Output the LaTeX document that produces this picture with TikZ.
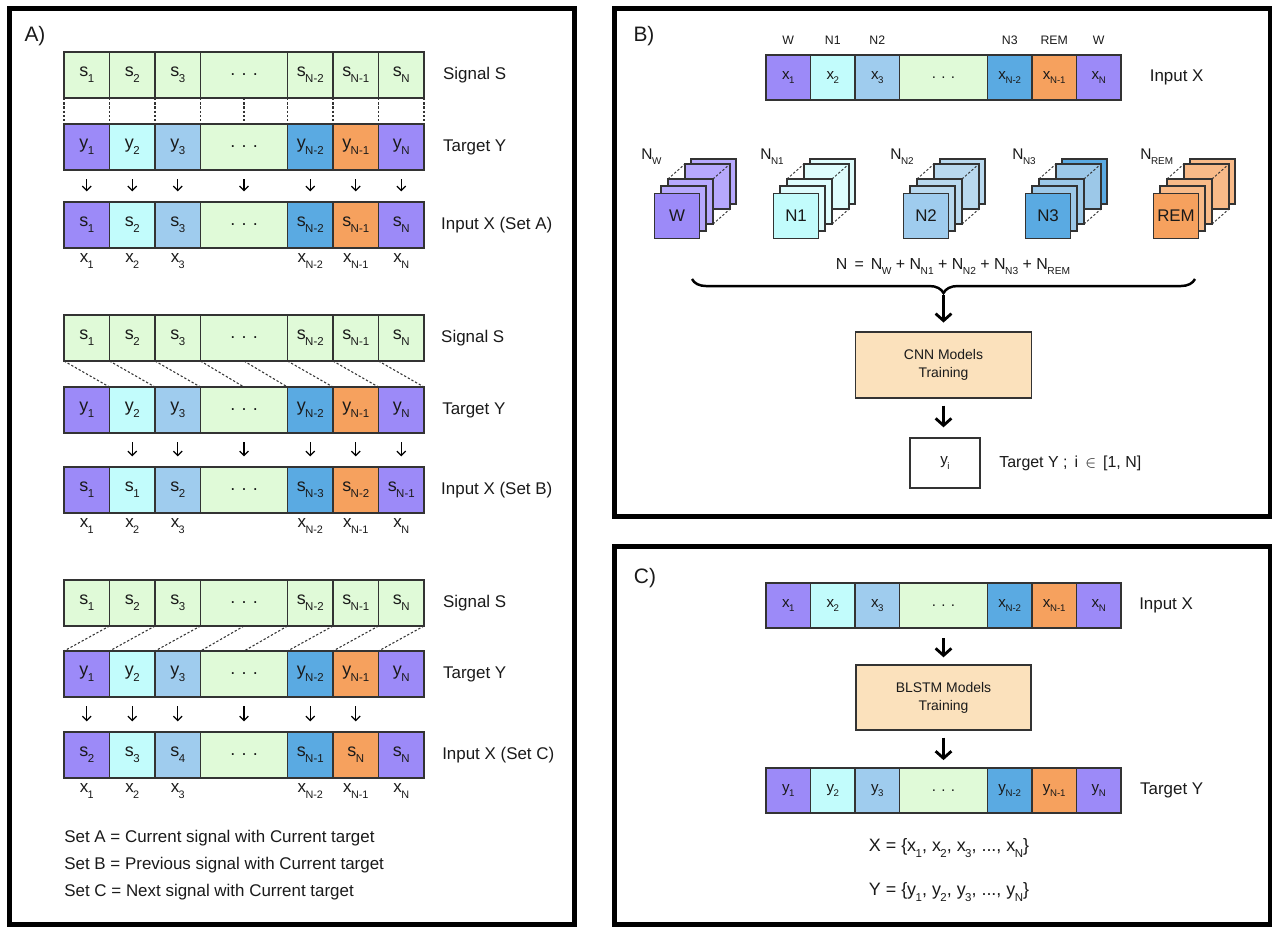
\documentclass[tikz,border=0pt]{standalone}
\usepackage{fontspec}
\setmainfont{Liberation Sans}
\usetikzlibrary{arrows.meta,decorations.pathreplacing,calc}

\definecolor{sigg}{HTML}{E0FAD8}
\definecolor{cpur}{HTML}{9C8AF8}
\definecolor{ccya}{HTML}{C2FCFC}
\definecolor{clbl}{HTML}{9FCCEE}
\definecolor{cblu}{HTML}{5AAAE2}
\definecolor{cora}{HTML}{F6A15E}
\definecolor{peach}{HTML}{FBE1BC}
\definecolor{cline}{HTML}{333333}
\definecolor{txt}{HTML}{1A1A1A}
\definecolor{bpur}{HTML}{B6A8FC}
\definecolor{bcya}{HTML}{DDFCFC}
\definecolor{blbl}{HTML}{B9D9EF}
\definecolor{bblu}{HTML}{9CC8E8}
\definecolor{bora}{HTML}{F8BA88}
\colorlet{sig1}{sigg}\colorlet{sig2}{sigg}\colorlet{sig3}{sigg}\colorlet{sig4}{sigg}
\colorlet{sig5}{sigg}\colorlet{sig6}{sigg}\colorlet{sig7}{sigg}
\colorlet{col1}{cpur}\colorlet{col2}{ccya}\colorlet{col3}{clbl}\colorlet{col4}{sigg}
\colorlet{col5}{cblu}\colorlet{col6}{cora}\colorlet{col7}{cpur}

\newcommand{\lsub}[2]{#1\kern-0.03em\raisebox{-0.32em}{\scalebox{0.64}{#2}}}
\newcommand{\dts}{.\hspace{0.35em}.\hspace{0.35em}.}

% #1 prefix, #2 x0, #3 y0, #4 cell width, #5 dots width, #6 height, #7 colour set, #8 labels
\newcommand{\crow}[8]{%
  \foreach \i/\t in {#8}{%
    \pgfmathsetmacro\xl{\i<4 ? #2+(\i-1)*#4 : (\i==4 ? #2+3*#4 : #2+3*#4+#5+(\i-5)*#4)}%
    \pgfmathsetmacro\cw{\i==4 ? #5 : #4}%
    \node[cell, fill=#7\i, minimum width=\cw*0.02cm, minimum height=#6*0.02cm,
          anchor=north west] (#1-\i) at (\xl,#3) {\t};
  }}

% #1 name, #2 fx, #3 front, #4 back, #5 last, #6 label, #7 top label
\newcommand{\cube}[7]{%
  \draw[sheet, fill=#5] (#2+37,159) rectangle (#2+82,204);
  \draw[sheet, fill=#4] (#2+31,164) rectangle (#2+76,209);
  \draw[csh] (#2+14,179) -- (#2+31,164) (#2+59,179) -- (#2+76,164) (#2+59,224) -- (#2+76,209);
  \draw[sheet, fill=#4] (#2+14,179) rectangle (#2+59,224);
  \draw[sheet, fill=#4] (#2+7,186) rectangle (#2+52,231);
  \node[sheet, fill=#3, minimum width=0.9cm, minimum height=0.9cm, inner sep=0pt,
        anchor=north west, font=\fontsize{9.6pt}{10pt}\selectfont] (#1) at (#2,193) {#6};
  \node[anchor=west, inner sep=0pt, font=\fontsize{8.8pt}{9pt}\selectfont] (#1-lab) at (#2-13,157) {#7};
}

\tikzset{
  x=0.02cm, y=-0.02cm,
  every node/.style={text=txt},
  cellbase/.style={draw=cline, line width=0.85pt, inner sep=0pt, outer sep=0pt},
  cellA/.style={cellbase, font=\fontsize{10.2pt}{12pt}\selectfont},
  cellB/.style={cellbase, font=\fontsize{8.6pt}{10pt}\selectfont},
  sheet/.style={draw=cline, line width=0.6pt},
  csh/.style={draw=cline, line width=0.55pt, dash pattern=on 1.3pt off 1.1pt},
  dsh/.style={draw=cline, line width=0.6pt, dash pattern=on 1.3pt off 1.1pt},
  sarr/.style={draw=black, line width=0.75pt, -{Straight Barb[length=2.5pt,width=5pt]},
               shorten <=5.4pt, shorten >=6pt},
  barr/.style={draw=black, line width=1.6pt, -{Straight Barb[length=4pt,width=9pt]}},
  lab/.style={inner sep=0pt, anchor=west, font=\fontsize{9.64pt}{11pt}\selectfont},
  xlab/.style={inner sep=0pt, font=\fontsize{9.64pt}{11pt}\selectfont},
  toplab/.style={inner sep=0pt, font=\fontsize{7pt}{8pt}\selectfont},
  frame/.style={draw=black, line width=2.8pt},
  panel/.style={inner sep=0pt, font=\fontsize{11.9pt}{13pt}\selectfont},
  model/.style={draw=cline, line width=0.8pt, fill=peach, align=center, inner sep=0pt,
                minimum width=3.52cm, minimum height=1.32cm,
                font=\fontsize{7.94pt}{10.2pt}\selectfont},
  brc/.style={decorate, decoration={brace, amplitude=8pt}, line width=1.4pt, draw=black},
}

\begin{document}
\begin{tikzpicture}
\useasboundingbox (0,0) rectangle (1275,927);
\fill[white] (0,0) rectangle (1275,927);

% ---------------- frames
\draw[frame] (9.5,8.5) rectangle (574.5,924.5);
\draw[frame] (614.5,8.5) rectangle (1270,516.5);
\draw[frame] (614.5,546.5) rectangle (1270,924.5);

\node[panel] (pA) at (35,36) {A)};
\node[panel] (pB) at (644,36) {B)};
\node[panel] (pC) at (645,578) {C)};

% ================= PANEL A
\tikzset{cell/.style={cellA}}
% --- Set A
\crow{pas}{64}{52}{45.5}{87}{46}{sig}{1/{\lsub{s}{1}},2/{\lsub{s}{2}},3/{\lsub{s}{3}},4/{\dts},5/{\lsub{s}{N-2}},6/{\lsub{s}{N-1}},7/{\lsub{s}{N}}}
\crow{pat}{64}{124}{45.5}{87}{46}{col}{1/{\lsub{y}{1}},2/{\lsub{y}{2}},3/{\lsub{y}{3}},4/{\dts},5/{\lsub{y}{N-2}},6/{\lsub{y}{N-1}},7/{\lsub{y}{N}}}
\crow{pai}{64}{202}{45.5}{87}{46}{col}{1/{\lsub{s}{1}},2/{\lsub{s}{2}},3/{\lsub{s}{3}},4/{\dts},5/{\lsub{s}{N-2}},6/{\lsub{s}{N-1}},7/{\lsub{s}{N}}}
\foreach \i in {1,...,7} \draw[dsh] (pas-\i.south west) -- (pat-\i.north west);
\draw[dsh] (pas-7.south east) -- (pat-7.north east);
\draw[dsh] (pas-4.south) -- (pat-4.north);
\foreach \i in {1,...,7} \draw[sarr] (pat-\i.south) -- (pai-\i.north);
\foreach \i/\t in {1/1,2/2,3/3,5/N-2,6/N-1,7/N} \node[xlab] (pax-\i) at ([yshift=-7.4pt]pai-\i.south) {\lsub{x}{\t}};
\node[lab] (lasig) at ([xshift=10.7pt]pas-7.east) {Signal S};
\node[lab] (latgt) at ([xshift=10.7pt]pat-7.east) {Target Y};
\node[lab] (lainp) at ([xshift=9.6pt]pai-7.east) {Input X (Set A)};

% --- Set B
\crow{pbs}{64}{315}{45.5}{87}{46}{sig}{1/{\lsub{s}{1}},2/{\lsub{s}{2}},3/{\lsub{s}{3}},4/{\dts},5/{\lsub{s}{N-2}},6/{\lsub{s}{N-1}},7/{\lsub{s}{N}}}
\crow{pbt}{64}{387}{45.5}{87}{46}{col}{1/{\lsub{y}{1}},2/{\lsub{y}{2}},3/{\lsub{y}{3}},4/{\dts},5/{\lsub{y}{N-2}},6/{\lsub{y}{N-1}},7/{\lsub{y}{N}}}
\crow{pbi}{64}{467}{45.5}{87}{46}{col}{1/{\lsub{s}{1}},2/{\lsub{s}{1}},3/{\lsub{s}{2}},4/{\dts},5/{\lsub{s}{N-3}},6/{\lsub{s}{N-2}},7/{\lsub{s}{N-1}}}
\foreach \a/\b in {1.south west/2.north west,2.south west/3.north west,3.south west/4.north west,4.south west/4.north,4.south/5.north west,5.south west/6.north west,6.south west/7.north west,7.south west/7.north east}
  \draw[dsh] (pbs-\a) -- (pbt-\b);
\foreach \i in {2,...,7} \draw[sarr] (pbt-\i.south) -- (pbi-\i.north);
\foreach \i/\t in {1/1,2/2,3/3,5/N-2,6/N-1,7/N} \node[xlab] (pbx-\i) at ([yshift=-7.4pt]pbi-\i.south) {\lsub{x}{\t}};
\node[lab] (lbsig) at ([xshift=9.6pt]pbs-7.east) {Signal S};
\node[lab] (lbtgt) at ([xshift=10.2pt]pbt-7.east) {Target Y};
\node[lab] (lbinp) at ([xshift=9.6pt]pbi-7.east) {Input X (Set B)};

% --- Set C
\crow{pcs}{64}{580}{45.5}{87}{46}{sig}{1/{\lsub{s}{1}},2/{\lsub{s}{2}},3/{\lsub{s}{3}},4/{\dts},5/{\lsub{s}{N-2}},6/{\lsub{s}{N-1}},7/{\lsub{s}{N}}}
\crow{pct}{64}{651}{45.5}{87}{46}{col}{1/{\lsub{y}{1}},2/{\lsub{y}{2}},3/{\lsub{y}{3}},4/{\dts},5/{\lsub{y}{N-2}},6/{\lsub{y}{N-1}},7/{\lsub{y}{N}}}
\crow{pci}{64}{732}{45.5}{87}{46}{col}{1/{\lsub{s}{2}},2/{\lsub{s}{3}},3/{\lsub{s}{4}},4/{\dts},5/{\lsub{s}{N-1}},6/{\lsub{s}{N}},7/{\lsub{s}{N}}}
\foreach \a/\b in {2.south west/1.north west,3.south west/2.north west,4.south west/3.north west,4.south/4.north west,5.south west/4.north,6.south west/5.north west,7.south west/6.north west,7.south east/7.north west}
  \draw[dsh] (pcs-\a) -- (pct-\b);
\foreach \i in {1,...,6} \draw[sarr] (pct-\i.south) -- (pci-\i.north);
\foreach \i/\t in {1/1,2/2,3/3,5/N-2,6/N-1,7/N} \node[xlab] (pcx-\i) at ([yshift=-7.4pt]pci-\i.south) {\lsub{x}{\t}};
\node[lab] (lcsig) at ([xshift=10.7pt]pcs-7.east) {Signal S};
\node[lab] (lctgt) at ([xshift=10.7pt]pct-7.east) {Target Y};
\node[lab] (lcinp) at ([xshift=10.2pt]pci-7.east) {Input X (Set C)};

\node[lab] (legA) at (64,838) {Set A = Current signal with Current target};
\node[lab] (legB) at (64,865) {Set B = Previous signal with Current target};
\node[lab] (legC) at (64,892) {Set C = Next signal with Current target};

% ================= PANEL B
\tikzset{cell/.style={cellB}}
\crow{Bx}{766}{55}{44.5}{88}{45}{col}{1/{\lsub{x}{1}},2/{\lsub{x}{2}},3/{\lsub{x}{3}},4/{\dts},5/{\lsub{x}{N-2}},6/{\lsub{x}{N-1}},7/{\lsub{x}{N}}}
\foreach \i/\t in {1/W,2/N1,3/N2,5/N3,6/REM,7/W} \node[toplab] (Bt-\i) at ([yshift=8.5pt]Bx-\i.north) {\t};
\node[lab] (lBinp) at ([xshift=16.2pt]Bx-7.east) {Input X};

\cube{cW}{654}{cpur}{bpur}{bpur}{W}{\lsub{N}{W}}
\cube{cN1}{773}{ccya}{bcya}{bcya}{N1}{\lsub{N}{N1}}
\cube{cN2}{903}{clbl}{blbl}{blbl}{N2}{\lsub{N}{N2}}
\cube{cN3}{1025}{cblu}{bblu}{cblu}{N3}{\lsub{N}{N3}}
\cube{cREM}{1153}{cora}{bora}{bora}{REM}{\lsub{N}{REM}}

\node[inner sep=0pt, font=\fontsize{9.07pt}{10pt}\selectfont] (eq) at (953,267)
  {N\, =\, \lsub{N}{W} + \lsub{N}{N1} + \lsub{N}{N2} + \lsub{N}{N3} + \lsub{N}{REM}};

\coordinate (brL) at (692,279);
\coordinate (brR) at (1195,279);
\draw[brc] (brR) -- (brL);
\coordinate (brtip) at (943.5,295);

\node[model] (cnn) at (943.5,365) {CNN Models\\Training};
\draw[barr, shorten >=5pt] (brtip) -- (cnn.north);
\node[draw=cline, line width=0.8pt, fill=white, minimum width=1.4cm, minimum height=1cm,
      inner sep=0pt, font=\fontsize{8.6pt}{10pt}\selectfont] (yi) at (945,463) {\lsub{y}{i}};
\draw[barr, shorten <=4pt, shorten >=5.7pt] (cnn.south) -- (cnn.south |- yi.north);
\node[lab, font=\fontsize{9.07pt}{10pt}\selectfont] (lyi) at (999,463) {Target Y ;\, i \,$\in$\, [1, N]};

% ================= PANEL C
\crow{Cx}{766}{583}{44.5}{88}{45}{col}{1/{\lsub{x}{1}},2/{\lsub{x}{2}},3/{\lsub{x}{3}},4/{\dts},5/{\lsub{x}{N-2}},6/{\lsub{x}{N-1}},7/{\lsub{x}{N}}}
\node[lab] (lCinp) at ([xshift=10.2pt]Cx-7.east) {Input X};
\node[model, minimum width=3.5cm, minimum height=1.3cm] (blstm) at (943.5,697.5) {BLSTM Models\\Training};
\crow{Cy}{766}{768}{44.5}{88}{45}{col}{1/{\lsub{y}{1}},2/{\lsub{y}{2}},3/{\lsub{y}{3}},4/{\dts},5/{\lsub{y}{N-2}},6/{\lsub{y}{N-1}},7/{\lsub{y}{N}}}
\node[lab] (lCtgt) at ([xshift=10.7pt]Cy-7.east) {Target Y};
\draw[barr, shorten <=5.7pt, shorten >=4pt] (Cx-4.south) -- (blstm.north);
\draw[barr, shorten <=4pt, shorten >=4.5pt] (blstm.south) -- (Cy-4.north);

\node[inner sep=0pt, font=\fontsize{10.2pt}{12pt}\selectfont] (setX) at (949,848)
  {X = \{\lsub{x}{1}, \lsub{x}{2}, \lsub{x}{3}, ..., \lsub{x}{N}\}};
\node[inner sep=0pt, font=\fontsize{10.2pt}{12pt}\selectfont] (setY) at (949,892)
  {Y = \{\lsub{y}{1}, \lsub{y}{2}, \lsub{y}{3}, ..., \lsub{y}{N}\}};
\end{tikzpicture}
\end{document}
